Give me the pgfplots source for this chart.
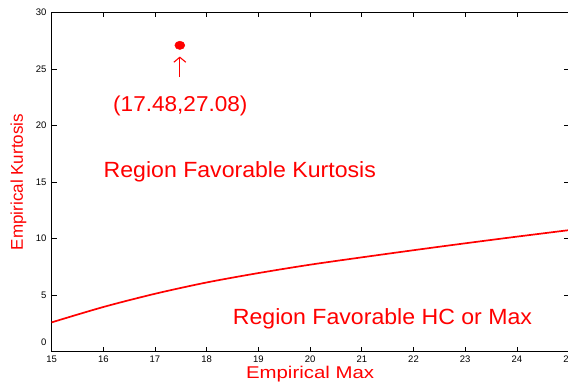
\documentclass[border=0pt]{standalone}
\usepackage{fontspec}
\setmainfont{Liberation Sans}
\usepackage{pgfplots}
\pgfplotsset{compat=1.18}
\usetikzlibrary{arrows.meta,calc}
\definecolor{mred}{RGB}{255,0,0}

\begin{document}
\begin{tikzpicture}
\begin{axis}[name=ax, at={(0,0)}, anchor=south west,
 scale only axis, width=517pt, height=339.4pt,
 xmin=15, xmax=25, ymin=0, ymax=30,
 xtick={15,16,...,25}, ytick={0,5,...,30},
 yticklabels={{},5,10,15,20,25,30},
 tick align=inside, major tick length=5pt,
 tick style={black, line width=0.7pt},
 axis line style={black, line width=0.9pt},
 /pgf/number format/assume math mode=true,
 ticklabel style={font=\fontsize{9.5}{10}\selectfont},
 xticklabel style={inner sep=0pt, yshift=-4pt},
 yticklabel style={inner sep=0pt, xshift=-5pt},
 xlabel={Empirical Max}, ylabel={Empirical Kurtosis},
 xlabel style={at={(axis description cs:0.5,-0.0795)}, anchor=base, inner sep=0pt, font=\fontsize{17}{18}\selectfont, xscale=1.2, text=mred},
 ylabel style={at={(axis description cs:-0.064,0.5)}, anchor=center, font=\fontsize{17}{18}\selectfont, text=mred},
 clip=false,
]
\addplot[mred, line width=1.7pt, smooth] coordinates {
 (15,2.59) (16,3.95) (17,5.12) (18,6.12) (19,6.95) (20,7.69)
 (21,8.34) (22,8.97) (23,9.58) (24,10.17) (25,10.74)};
\addplot[only marks, mark=*, mark size=4.2pt, mred, mark options={xscale=1.2}] coordinates {(17.48,27.08)};
\draw[mred, line width=1.1pt, -{Straight Barb[length=5pt, width=12pt]}] (axis cs:17.48,24.27) -- (axis cs:17.48,26.09);
\node[anchor=base, text=mred, font=\fontsize{21.5}{22}\selectfont, xscale=1.05] at (axis cs:17.49,21.23) {(17.48,27.08)};
\node[anchor=base, text=mred, font=\fontsize{22}{23}\selectfont, xscale=1.05] at (axis cs:18.64,15.43) {Region Favorable Kurtosis};
\node[anchor=base, text=mred, font=\fontsize{22}{23}\selectfont, xscale=1.05] at (axis cs:21.40,2.39) {Region Favorable HC or Max};
\node[anchor=east, inner sep=0pt, xshift=-5pt, yshift=9pt, font=\fontsize{9.5}{10}\selectfont] at (rel axis cs:0,0) {0};
\end{axis}
\pgfresetboundingbox
\useasboundingbox ($(ax.south west)+(-51.6pt,-30.3pt)$) rectangle ($(ax.south west)+(516.4pt,351.7pt)$);
\end{tikzpicture}
\end{document}
